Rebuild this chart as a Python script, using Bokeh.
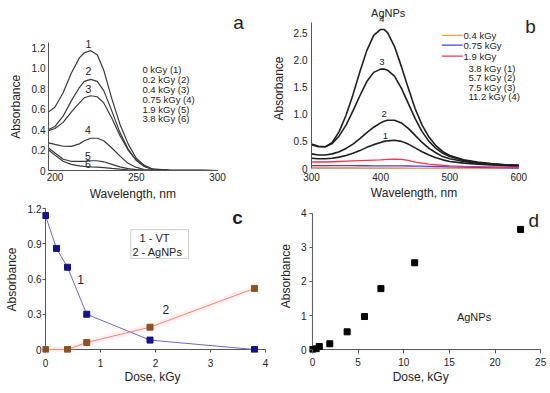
from bokeh.plotting import figure
from bokeh.layouts import column, row
from bokeh.models import Label, BoxAnnotation
from bokeh.embed import file_html
from bokeh.resources import INLINE

FONT = "Liberation Sans"
NB = "\u00a0"

# ---------------- Panel a data (VT spectra) ----------------
wl_a = [196, 200, 205, 210, 215, 218, 222, 226, 230, 235, 240, 245, 250, 255, 260, 270, 280, 290, 300]
a_0kgy = [0.57, 0.62, 0.76, 0.95, 1.10, 1.15, 1.17, 1.13, 0.98, 0.70, 0.45, 0.26, 0.12, 0.05, 0.015, 0.004, 0.002, 0.001, 0.0]
a_02kgy = [0.40, 0.43, 0.53, 0.68, 0.81, 0.87, 0.89, 0.87, 0.78, 0.58, 0.37, 0.21, 0.10, 0.04, 0.012, 0.004, 0.002, 0.001, 0.0]
a_04kgy = [0.39, 0.41, 0.47, 0.57, 0.66, 0.71, 0.73, 0.72, 0.66, 0.51, 0.34, 0.20, 0.10, 0.04, 0.012, 0.004, 0.002, 0.001, 0.0]
a_075kgy = [0.27, 0.255, 0.237, 0.235, 0.26, 0.29, 0.315, 0.315, 0.29, 0.22, 0.14, 0.07, 0.03, 0.01, 0.003, 0.001, 0.0, 0.0, 0.0]
a_19kgy = [0.22, 0.17, 0.11, 0.09, 0.09, 0.09, 0.095, 0.095, 0.085, 0.06, 0.035, 0.018, 0.008, 0.003, 0.001, 0.0, 0.0, 0.0, 0.0]
a_38kgy = [0.20, 0.15, 0.09, 0.06, 0.045, 0.04, 0.035, 0.032, 0.028, 0.02, 0.013, 0.007, 0.003, 0.001, 0.0, 0.0, 0.0, 0.0, 0.0]
a_series = [a_0kgy, a_02kgy, a_04kgy, a_075kgy, a_19kgy, a_38kgy]
a_legend = ["0 kGy (1)", "0.2 kGy (2)", "0.4 kGy (3)", "0.75 kGy (4)", "1.9 kGy (5)", "3.8 kGy (6)"]
a_numbers = ["1", "2", "3", "4", "5", "6"]
a_xticks = [200, 250, 300]
a_yticks = [0, 0.2, 0.4, 0.6, 0.8, 1.0, 1.2]

# ---------------- Panel b data (AgNPs spectra) ----------------
wl_b = [300, 310, 320, 330, 340, 350, 360, 370, 380, 390, 400, 405, 410, 420, 430, 440, 450, 460, 470, 480, 490, 500, 520, 540, 560, 580, 600]
b_112kgy = [0.45, 0.41, 0.40, 0.48, 0.68, 0.98, 1.36, 1.78, 2.17, 2.45, 2.56, 2.56, 2.50, 2.25, 1.88, 1.48, 1.10, 0.80, 0.58, 0.42, 0.31, 0.24, 0.16, 0.12, 0.09, 0.07, 0.06]
b_75kgy = [0.44, 0.40, 0.40, 0.46, 0.60, 0.80, 1.06, 1.34, 1.60, 1.77, 1.83, 1.83, 1.81, 1.70, 1.48, 1.20, 0.92, 0.68, 0.50, 0.37, 0.28, 0.22, 0.15, 0.11, 0.085, 0.07, 0.06]
b_57kgy = [0.27, 0.25, 0.25, 0.27, 0.31, 0.37, 0.45, 0.55, 0.66, 0.76, 0.84, 0.87, 0.89, 0.89, 0.84, 0.74, 0.61, 0.48, 0.37, 0.29, 0.22, 0.18, 0.13, 0.10, 0.08, 0.065, 0.055]
b_38kgy = [0.19, 0.18, 0.18, 0.19, 0.21, 0.24, 0.28, 0.33, 0.39, 0.44, 0.48, 0.50, 0.51, 0.52, 0.50, 0.45, 0.38, 0.31, 0.25, 0.20, 0.16, 0.13, 0.10, 0.08, 0.065, 0.055, 0.05]
b_19kgy = [0.12, 0.12, 0.12, 0.125, 0.13, 0.135, 0.14, 0.145, 0.15, 0.155, 0.16, 0.165, 0.17, 0.175, 0.17, 0.15, 0.12, 0.10, 0.08, 0.07, 0.06, 0.05, 0.04, 0.035, 0.03, 0.03, 0.025]
b_075kgy = [0.055, 0.055, 0.054, 0.053, 0.053, 0.052, 0.052, 0.051, 0.051, 0.05, 0.05, 0.05, 0.05, 0.049, 0.048, 0.047, 0.045, 0.043, 0.04, 0.037, 0.034, 0.03, 0.025, 0.02, 0.016, 0.013, 0.01]
b_04kgy = [0.02, 0.02, 0.019, 0.018, 0.017, 0.016, 0.015, 0.014, 0.013, 0.012, 0.011, 0.011, 0.011, 0.01, 0.01, 0.009, 0.009, 0.008, 0.008, 0.007, 0.007, 0.007, 0.006, 0.006, 0.005, 0.005, 0.005]
b_black = [b_38kgy, b_57kgy, b_75kgy, b_112kgy]
b_colored = [b_04kgy, b_075kgy, b_19kgy]
b_colored_names = ["0.4 kGy", "0.75 kGy", "1.9 kGy"]
b_black_names = ["3.8 kGy (1)", "5.7 kGy (2)", "7.5 kGy (3)", "11.2 kGy (4)"]
b_colors = ["#ff9a40", "#4040ff", "#ff3050"]
b_xticks = [300, 400, 500, 600]
b_yticks = [0, 0.5, 1.0, 1.5, 2.0, 2.5]

# ---------------- Panel c data ----------------
dose_vt = [0, 0.2, 0.4, 0.75, 1.9, 3.8]
abs_vt = [1.14, 0.86, 0.70, 0.30, 0.08, 0.0]
dose_ag = [0, 0.4, 0.75, 1.9, 3.8]
abs_ag = [0.0, 0.0, 0.06, 0.19, 0.52]
c_xticks = [0, 1, 2, 3, 4]
c_yticks = [0, 0.3, 0.6, 0.9, 1.2]

# ---------------- Panel d data ----------------
dose_d = [0, 0.4, 0.75, 1.9, 3.8, 5.7, 7.5, 11.2, 22.8]
abs_d = [0.0, 0.02, 0.09, 0.17, 0.52, 0.97, 1.79, 2.55, 3.53]
d_xticks = [0, 5, 10, 15, 20, 25]
d_yticks = [0, 1, 2, 3, 4]

AXIS_COLOR = "#555555"


def fmt(v):
    if v == 0:
        return "0"
    if isinstance(v, int):
        return str(v)
    return "%.1f" % v


def make_fig(w, h, xr, yr, left, right, top, bottom, xb, yb):
    p = figure(width=w, height=h, x_range=xr, y_range=yr,
               output_backend="svg", toolbar_location=None,
               min_border_left=left, min_border_right=right,
               min_border_top=top, min_border_bottom=bottom)
    p.xgrid.visible = False
    p.ygrid.visible = False
    p.outline_line_color = None
    p.background_fill_color = "white"
    p.border_fill_color = "white"
    p.xaxis.bounds = xb
    p.yaxis.bounds = yb
    for ax in (p.xaxis[0], p.yaxis[0]):
        ax.axis_line_color = AXIS_COLOR
        ax.axis_line_width = 1
        ax.major_tick_line_color = AXIS_COLOR
        ax.minor_tick_line_color = None
        ax.major_tick_in = 0
        ax.major_tick_out = 0
        ax.major_label_text_font = FONT
        ax.major_label_text_font_size = "10px"
        ax.major_label_text_color = "#222222"
        ax.axis_label_text_font = FONT
        ax.axis_label_text_font_size = "12px"
        ax.axis_label_text_font_style = "normal"
        ax.axis_label_text_color = "#222222"
    return p


def set_ticks(ax, ticks):
    ax.ticker = ticks
    ax.major_label_overrides = {t: fmt(t) for t in ticks}


def lab(p, x, y, text, size="10px", align="center", baseline="middle", style="normal", color="#222222"):
    p.add_layout(Label(x=x, y=y, text=text, text_font=FONT, text_font_size=size,
                       text_align=align, text_baseline=baseline,
                       text_font_style=style, text_color=color))


# ---------------- Panel a ----------------
pa = make_fig(268, 204, (196, 320.3), (0, 1.6016), 48, 18, 6, 34, (196, 300), (0, 1.25))
set_ticks(pa.xaxis[0], a_xticks)
set_ticks(pa.yaxis[0], a_yticks)
pa.xaxis.axis_label = "Wavelength, nm" + NB * 10
pa.yaxis.axis_label = "Absorbance" + NB * 11
pa.xaxis.major_label_standoff = 2
pa.xaxis.axis_label_standoff = 3
pa.yaxis.major_label_standoff = 3
pa.yaxis.axis_label_standoff = 6
for ys in a_series:
    pa.line(wl_a, ys, line_color="#383838", line_width=1.2)
a_num_pos = [(220.6, 1.24), (220.6, 0.97), (220.6, 0.80), (220.2, 0.40), (220.2, 0.146), (220.2, 0.06)]
for t, (x, y) in zip(a_numbers, a_num_pos):
    lab(pa, x, y, t, size="10.5px")
a_leg_y = [0.99, 0.89, 0.79, 0.69, 0.60, 0.51]
for t, y in zip(a_legend, a_leg_y):
    lab(pa, 253.8, y, t, size="9.5px", align="left")
lab(pa, 312.9, 1.445, "a", size="19px", baseline="alphabetic")

# ---------------- Panel b ----------------
pb = make_fig(282, 204, (300, 640), (-0.036, 2.982), 40, 4, 6, 29, (300, 600), (0, 2.68))
set_ticks(pb.xaxis[0], b_xticks)
set_ticks(pb.yaxis[0], b_yticks)
pb.xaxis.axis_label = "Wavelength, nm" + NB * 9
pb.yaxis.axis_label = "Absorbance"
pb.xaxis.axis_line_color = None
pb.xaxis.major_label_standoff = 2
pb.xaxis.axis_label_standoff = 2
pb.yaxis.major_label_standoff = 4
pb.yaxis.axis_label_standoff = 5
pb.line([b_xticks[0], b_xticks[-1]], [0, 0], line_color="#aaaaaa", line_width=1)
for ys, c in zip(b_colored, b_colors):
    pb.line(wl_b, ys, line_color=c, line_width=1.3)
for ys in b_black:
    pb.line(wl_b, ys, line_color="#1e1e1e", line_width=1.6)
b_num_pos = [(407, 0.59), (405, 1.00), (402, 1.96), (402, 2.75)]
for t, (x, y) in zip(["1", "2", "3", "4"], b_num_pos):
    lab(pb, x, y, t, size="9.5px")
lab(pb, 411, 2.86, "AgNPs", size="11px")
lab(pb, 617, 2.607, "b", size="19px", baseline="alphabetic")
b_leg_y = [2.45, 2.27, 2.07]
for ys_name, c, y in zip(b_colored_names, b_colors, b_leg_y):
    pb.line([488.6, 518.6], [y, y], line_color=c, line_width=1.3)
    lab(pb, 520, y, ys_name, size="9.5px", align="left")
b_leg_y2 = [1.85, 1.67, 1.50, 1.32]
for t, y in zip(b_black_names, b_leg_y2):
    lab(pb, 527, y, t, size="9.5px", align="left")

# ---------------- Panel c ----------------
pc = make_fig(275, 189, (-0.0545, 4.127), (-0.0255, 1.217), 42, 3, 2, 41, (0, 4), (0, 1.2))
set_ticks(pc.xaxis[0], c_xticks)
set_ticks(pc.yaxis[0], c_yticks)
pc.xaxis.axis_label = "Dose, kGy" + NB * 3
pc.yaxis.axis_label = "Absorbance"
pc.xaxis.axis_line_color = None
pc.yaxis.axis_line_color = None
pc.xaxis.major_tick_in = 3
pc.xaxis.major_label_standoff = 6
pc.xaxis.axis_label_standoff = 0
pc.yaxis.major_tick_in = 3
pc.yaxis.major_label_standoff = 1
pc.yaxis.axis_label_standoff = 6
pc.line([c_xticks[0], c_xticks[-1]], [0, 0], line_color=AXIS_COLOR, line_width=1)
pc.line([0, 0], [c_yticks[0], c_yticks[-1]], line_color=AXIS_COLOR, line_width=1)
pc.line(dose_ag, abs_ag, line_color="#ffb0c8", line_width=6, line_alpha=0.22)
pc.line(dose_vt, abs_vt, line_color="#6a6ac8", line_width=1)
pc.line(dose_ag, abs_ag, line_color="#f08a6a", line_width=1)
pc.scatter(dose_vt, abs_vt, marker="square", size=6, fill_color="#14148a", line_color="#14148a")
pc.scatter(dose_ag, abs_ag, marker="square", size=6, fill_color="#8a5420", line_color="#8a5420")
pc.add_layout(BoxAnnotation(left=1.55, right=2.6, bottom=0.775, top=1.02,
                            fill_alpha=0, line_color="#555555", line_width=1))
lab(pc, 1.71, 0.945, "1 - VT", size="11px", align="left")
lab(pc, 1.58, 0.826, "2 - AgNPs", size="11px", align="left")
lab(pc, 0.64, 0.60, "1", size="12px")
lab(pc, 2.19, 0.34, "2", size="12px")
lab(pc, 3.49, 1.123, "c", size="19px", style="bold", baseline="alphabetic")

# ---------------- Panel d ----------------
pd_ = make_fig(275, 189, (-0.323, 25.86), (-0.087, 4.203), 30, 2, 0, 41, (0, 25), (0, 4))
set_ticks(pd_.xaxis[0], d_xticks)
set_ticks(pd_.yaxis[0], d_yticks)
pd_.xaxis.axis_label = "Dose, kGy" + NB * 5
pd_.yaxis.axis_label = NB * 2 + "Absorbance"
pd_.xaxis.axis_line_color = None
pd_.yaxis.axis_line_color = None
pd_.xaxis.major_tick_in = 3
pd_.xaxis.major_tick_out = 1
pd_.xaxis.major_label_standoff = 4
pd_.xaxis.axis_label_standoff = 1
pd_.yaxis.major_tick_in = 3
pd_.yaxis.major_label_standoff = 3
pd_.yaxis.axis_label_standoff = 5
pd_.line([d_xticks[0], d_xticks[-1]], [0, 0], line_color=AXIS_COLOR, line_width=1)
pd_.line([0, 0], [d_yticks[0], d_yticks[-1]], line_color=AXIS_COLOR, line_width=1)
pd_.scatter(dose_d, abs_d, marker="square", size=6, fill_color="black", line_color="black")
lab(pd_, 17.7, 0.96, "AgNPs", size="11px")
lab(pd_, 24.25, 3.80, "d", size="19px", baseline="alphabetic")

layout = column(row(pa, pb), row(pc, pd_))
open("out.html", "w").write(file_html(layout, INLINE))
